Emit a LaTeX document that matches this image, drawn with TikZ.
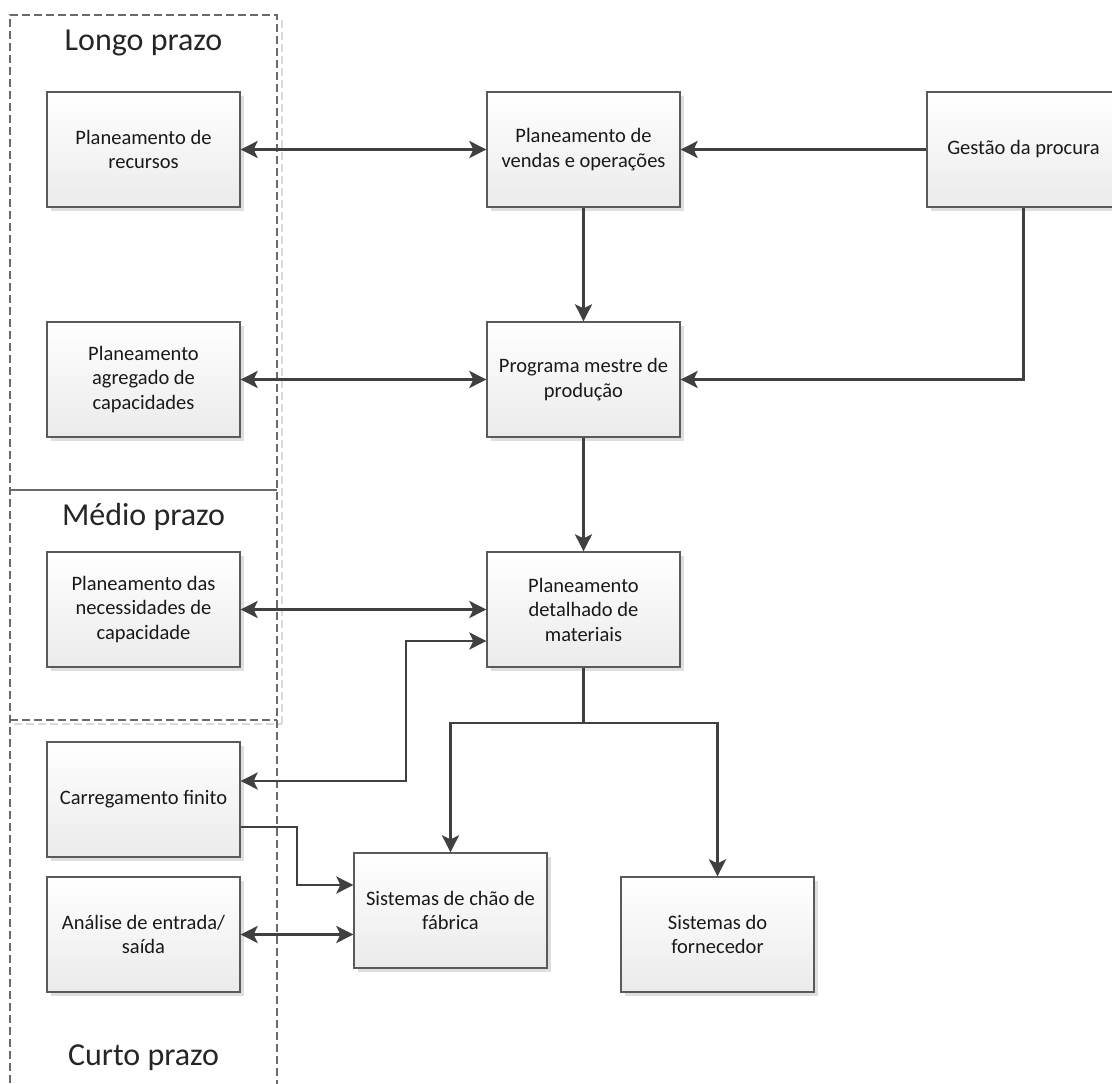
\documentclass[tikz,border=0pt]{standalone}
\usepackage{fontspec}
\setmainfont{Carlito}
\usetikzlibrary{arrows.meta,shadows,calc}
\definecolor{linec}{HTML}{404040}
\definecolor{boxborder}{HTML}{5A5A5A}
\definecolor{framec}{HTML}{6A6A6A}
\begin{document}
\begin{tikzpicture}[x=1pt,y=-1pt,
  box/.style={draw=boxborder,line width=1.3pt,minimum width=193pt,minimum height=115pt,
    align=center,top color=white,bottom color=black!8,inner sep=2pt,
    font=\fontsize{20.5}{24.5}\selectfont,text=black!90,
    drop shadow={shadow xshift=4pt,shadow yshift=-4pt,fill=black!13,opacity=1}},
  ttl/.style={font=\fontsize{32}{36}\selectfont,text=black!85},
  conn/.style={draw=linec,line width=2.8pt},
  arr/.style={conn,-{Stealth[length=17pt,width=17pt,inset=4pt]}},
  dbl/.style={conn,{Stealth[length=17pt,width=17pt,inset=4pt]}-{Stealth[length=17pt,width=17pt,inset=4pt]}},
  frame/.style={draw=framec,line width=1.5pt,dash pattern=on 8pt off 4pt},
  ghost/.style={draw=black!15,line width=1.5pt,dash pattern=on 8pt off 4pt}
]
\clip (0,0) rectangle (1112,1084);
\fill[white] (0,0) rectangle (1112,1084);

% frame
\draw[ghost] (282,20) -- (282,724);
\draw[ghost] (14,724) -- (282,724);
\draw[frame] (10,1095) -- (10,15) -- (277,15) -- (277,1095);
\draw[draw=framec,line width=1.5pt] (10,490) -- (277,490);
\draw[frame] (10,720) -- (277,720);

\node[ttl] (tl) at (143.5,43) {Longo prazo};
\node[ttl] (tm) at (143.5,517) {Médio prazo};
\node[ttl] (tc) at (143.5,1058) {Curto prazo};

% boxes
\node[box] (rec)  at (143.5,149.5) {Planeamento de\\recursos};
\node[box] (vend) at (583.5,149.5) {Planeamento de\\vendas e operações};
\node[box] (gest) at (1023.5,149.5) {Gestão da procura};
\node[box] (agr)  at (143.5,379.5) {Planeamento\\agregado de\\capacidades};
\node[box] (prog) at (583.5,379.5) {Programa mestre de\\produção};
\node[box] (nec)  at (143.5,609.5) {Planeamento das\\necessidades de\\capacidade};
\node[box] (det)  at (583.5,609.5) {Planeamento\\detalhado de\\materiais};
\node[box] (carr) at (143.5,799.5) {Carregamento finito};
\node[box] (anal) at (143.5,934.5) {Análise de entrada/\\saída};
\node[box] (chao) at (450.5,910.5) {Sistemas de chão de\\fábrica};
\node[box] (forn) at (717.5,934.5) {Sistemas do\\fornecedor};

% connectors
\draw[dbl] (rec) -- (vend);
\draw[arr] (gest) -- (vend);
\draw[arr] (vend) -- (prog);
\draw[arr] (gest.south) |- (prog.east);
\draw[dbl] (agr) -- (prog);
\draw[arr] (prog) -- (det);
\draw[dbl] (nec) -- (det);

\coordinate (br) at (583.5,723);
\draw[conn] (det.south) -- (br);
\draw[arr] (br) -| (chao.north);
\draw[arr] (br) -| (forn.north);

\coordinate (k1) at (406,641);
\coordinate (k2) at (406,781);
\draw[dbl] (det.west |- k1) -- (k1) -- (k2) -- (carr.east |- k2);

\coordinate (k3) at (297,827);
\coordinate (k4) at (297,885);
\draw[arr] (carr.east |- k3) -- (k3) -- (k4) -- (chao.west |- k4);

\draw[dbl] (anal.east) -- (chao.west |- anal.east);
\end{tikzpicture}
\end{document}
